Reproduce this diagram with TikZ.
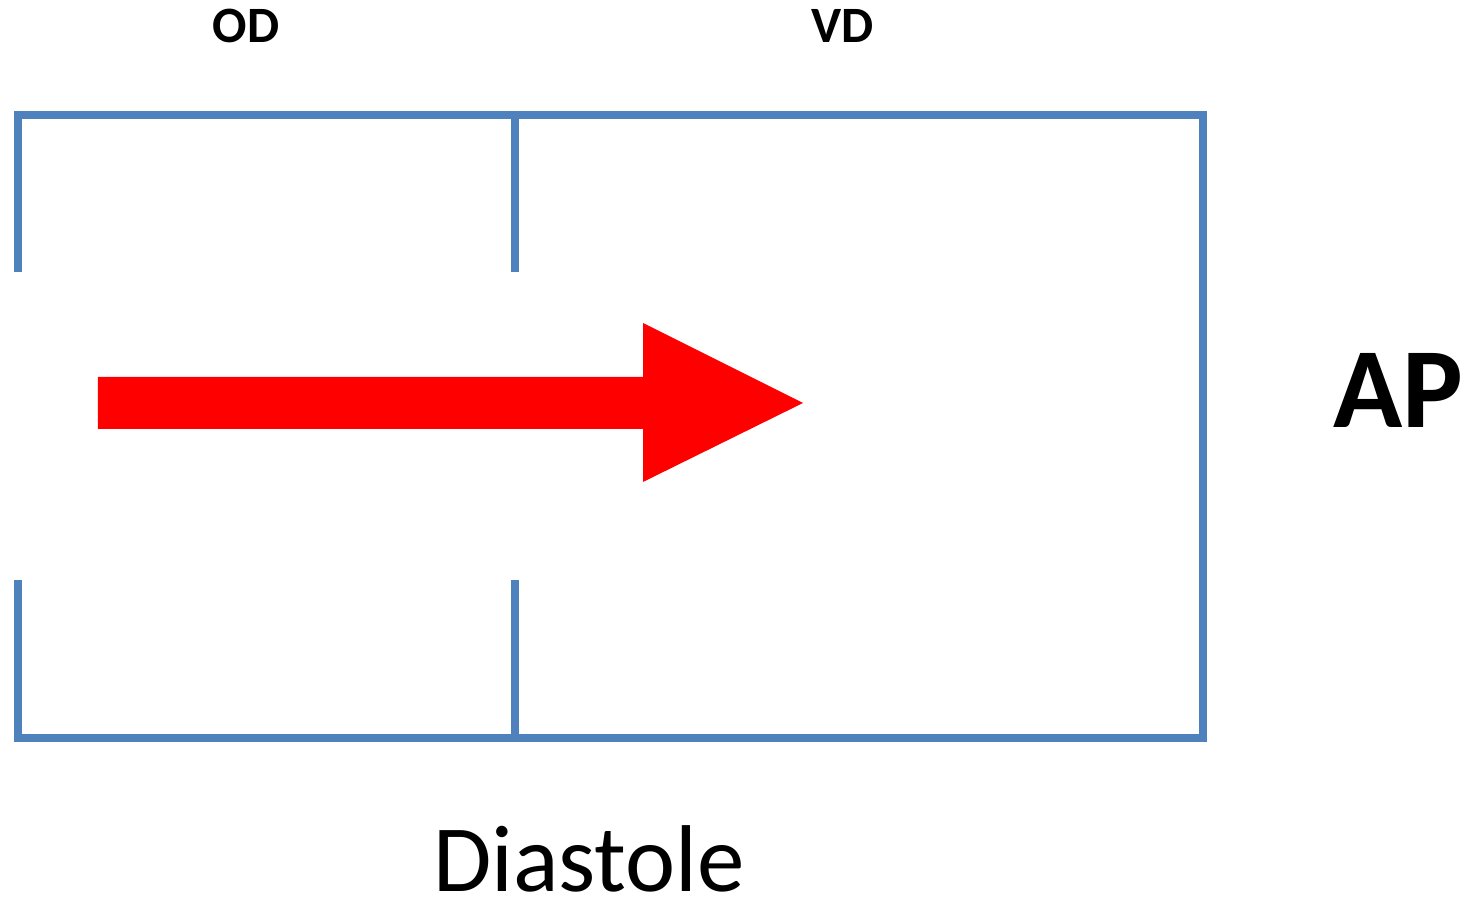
\documentclass[tikz,border=0pt]{standalone}
\usepackage{fontspec}
\setmainfont{Carlito}
\usetikzlibrary{positioning}
\definecolor{wallblue}{RGB}{79,129,189}
\tikzset{
  wall/.style={draw=wallblue,line width=2.3pt},
  flow/.style={fill=red,draw=none},
  chamber/.style={font=\bfseries\fontsize{14.5pt}{17pt}\selectfont,inner sep=0pt}
}

\begin{document}
\begin{tikzpicture}
  \useasboundingbox (0,0) rectangle (14.68,9.01);

  % walls of OD and VD
  \draw[wall] (0.18,6.29) -- (0.18,7.86) -- (12.03,7.86) -- (12.03,1.63) -- (0.18,1.63) -- (0.18,3.21);
  \draw[wall] (5.15,6.29) -- (5.15,7.86);
  \draw[wall] (5.15,3.21) -- (5.15,1.63);

  % blood flow
  \fill[flow] (0.98,5.24) -- (6.43,5.24) -- (6.43,5.78) -- (8.03,4.98)
    -- (6.43,4.19) -- (6.43,4.72) -- (0.98,4.72) -- cycle;

  \node[chamber] (od) at (2.46,8.75) {OD};
  \node[chamber] (vd) at (8.43,8.75) {VD};
  \node[font=\bfseries\fontsize{32.5pt}{38pt}\selectfont,inner sep=0pt] (ap) at (13.98,5.11) {AP};
  \node[font=\fontsize{27pt}{32pt}\selectfont,inner sep=0pt,anchor=base] (diastole) at (5.89,0.09) {Diastole};
\end{tikzpicture}
\end{document}
